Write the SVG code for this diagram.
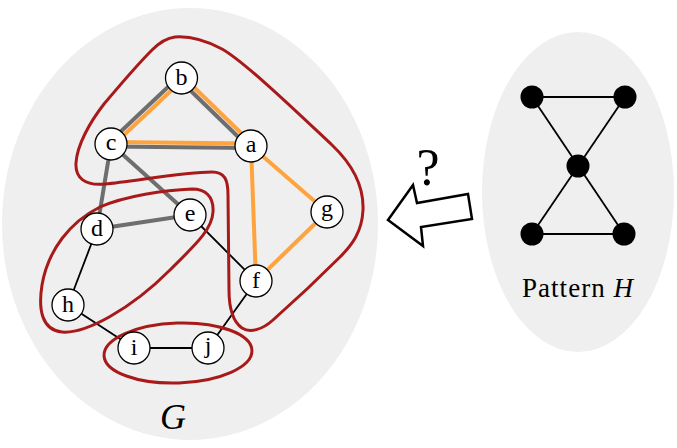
<svg xmlns="http://www.w3.org/2000/svg" width="677" height="448" viewBox="0 0 677 448">
<style>
.bg{fill:#efefef;stroke:none}
.nd{fill:#fff;stroke:#000;stroke-width:1.3}
.lbl{font-family:"Liberation Serif","DejaVu Serif",serif;font-size:24px;text-anchor:middle;fill:#000}
.txt{font-family:"Liberation Serif","DejaVu Serif",serif;fill:#000}
.gr{stroke:#6e6e6e;stroke-width:4;fill:none}
.or{stroke:#ffa33f;stroke-width:4;fill:none}
.bk{stroke:#000;stroke-width:1.8;fill:none}
.red{stroke:#a81a1a;stroke-width:3;fill:none;stroke-linejoin:round}
.hn{fill:#000}
</style>
<ellipse class="bg" cx="190" cy="224" rx="188" ry="216"/>
<ellipse class="bg" cx="578" cy="192" rx="96" ry="160"/>
<g id="connectors">
<line class="gr" x1="179.4" y1="76.3" x2="109.4" y2="142.3"/>
<line class="or" x1="182.6" y1="79.7" x2="112.6" y2="145.7"/>
<line class="gr" x1="179.4" y1="79.7" x2="249.4" y2="147.7"/>
<line class="or" x1="182.6" y1="76.3" x2="252.6" y2="144.3"/>
<line class="or" x1="111" y1="142" x2="251" y2="143.6"/>
<line class="gr" x1="111" y1="146.4" x2="251" y2="148"/>
<line class="gr" x1="111" y1="144" x2="97" y2="229"/>
<line class="gr" x1="111" y1="144" x2="190" y2="215"/>
<line class="gr" x1="97" y1="229" x2="190" y2="215"/>
<line class="or" x1="251" y1="146" x2="256" y2="281"/>
<line class="or" x1="251" y1="146" x2="327" y2="212"/>
<line class="or" x1="327" y1="212" x2="256" y2="281"/>
<line class="bk" x1="190" y1="215" x2="256" y2="281"/>
<line class="bk" x1="97" y1="229" x2="68" y2="305"/>
<line class="bk" x1="68" y1="305" x2="134" y2="348"/>
<line class="bk" x1="134" y1="348" x2="208" y2="348"/>
<line class="bk" x1="256" y1="281" x2="208" y2="348"/>
<line class="bk" x1="532" y1="97" x2="625" y2="97"/>
<line class="bk" x1="532" y1="234" x2="624" y2="234"/>
<line class="bk" x1="532" y1="97" x2="624" y2="234"/>
<line class="bk" x1="625" y1="97" x2="532" y2="234"/>
</g>
<g id="contours">
<path class="red" d="M 175,37 C 190,36 205,40 222,49 C 245,62 300,115 332,145 C 352,164 364,185 363,210 C 362,232 352,245 340,257 C 320,277 290,305 273,320 C 262,330 250,333 242,328 C 232,321 229,308 229,290 L 228,195 C 228,180 225,172 212,172 C 185,172 135,181 105,184 C 85,186 75,178 76,163 C 77,145 90,122 104,104 C 120,85 140,62 152,50 C 160,42 167,38 175,37 Z"/>
<path class="red" d="M 213,212 C 214,196 205,189 192,189 C 165,190 125,196 100,207 C 70,222 48,250 42,285 C 38,310 42,330 62,332 C 85,334 130,310 170,270 C 195,245 212,230 213,212 Z"/>
<ellipse class="red" cx="178" cy="353" rx="74" ry="30" transform="rotate(-2 178 353)"/>
</g>
<g id="node-a"><circle class="nd" cx="251" cy="146" r="16"/><text class="lbl" x="251" y="152">a</text></g>
<g id="node-b"><circle class="nd" cx="181.5" cy="78" r="16"/><text class="lbl" x="181.5" y="85">b</text></g>
<g id="node-c"><circle class="nd" cx="111" cy="144" r="16"/><text class="lbl" x="111" y="150">c</text></g>
<g id="node-d"><circle class="nd" cx="97" cy="229" r="16"/><text class="lbl" x="97" y="236">d</text></g>
<g id="node-e"><circle class="nd" cx="190" cy="215" r="16"/><text class="lbl" x="190" y="221">e</text></g>
<g id="node-f"><circle class="nd" cx="256" cy="281" r="16"/><text class="lbl" x="256" y="288">f</text></g>
<g id="node-g"><circle class="nd" cx="327" cy="212" r="16"/><text class="lbl" x="327" y="216">g</text></g>
<g id="node-h"><circle class="nd" cx="68" cy="305" r="16"/><text class="lbl" x="68" y="312">h</text></g>
<g id="node-i"><circle class="nd" cx="134" cy="348" r="16"/><text class="lbl" x="134" y="355">i</text></g>
<g id="node-j"><circle class="nd" cx="208" cy="348" r="16"/><text class="lbl" x="208" y="353">j</text></g>
<g id="h-node-1"><circle class="hn" cx="532" cy="97" r="11.5"/></g>
<g id="h-node-2"><circle class="hn" cx="625" cy="97" r="11.5"/></g>
<g id="h-node-3"><circle class="hn" cx="578" cy="166" r="11.5"/></g>
<g id="h-node-4"><circle class="hn" cx="532" cy="234" r="11.5"/></g>
<g id="h-node-5"><circle class="hn" cx="624" cy="234" r="11.5"/></g>
<g id="arrow"><polygon points="388,220 413,185 417,203 468,194 472,219 421,227 423,246" fill="#fff" stroke="#000" stroke-width="2.5" stroke-linejoin="miter"/></g>
<text class="txt" x="428" y="185" font-size="52" text-anchor="middle">?</text>
<text class="txt" x="173" y="429" font-size="36" font-style="italic" text-anchor="middle">G</text>
<text class="txt" x="522" y="297" font-size="27" textLength="111" lengthAdjust="spacing">Pattern <tspan font-style="italic">H</tspan></text>
</svg>
